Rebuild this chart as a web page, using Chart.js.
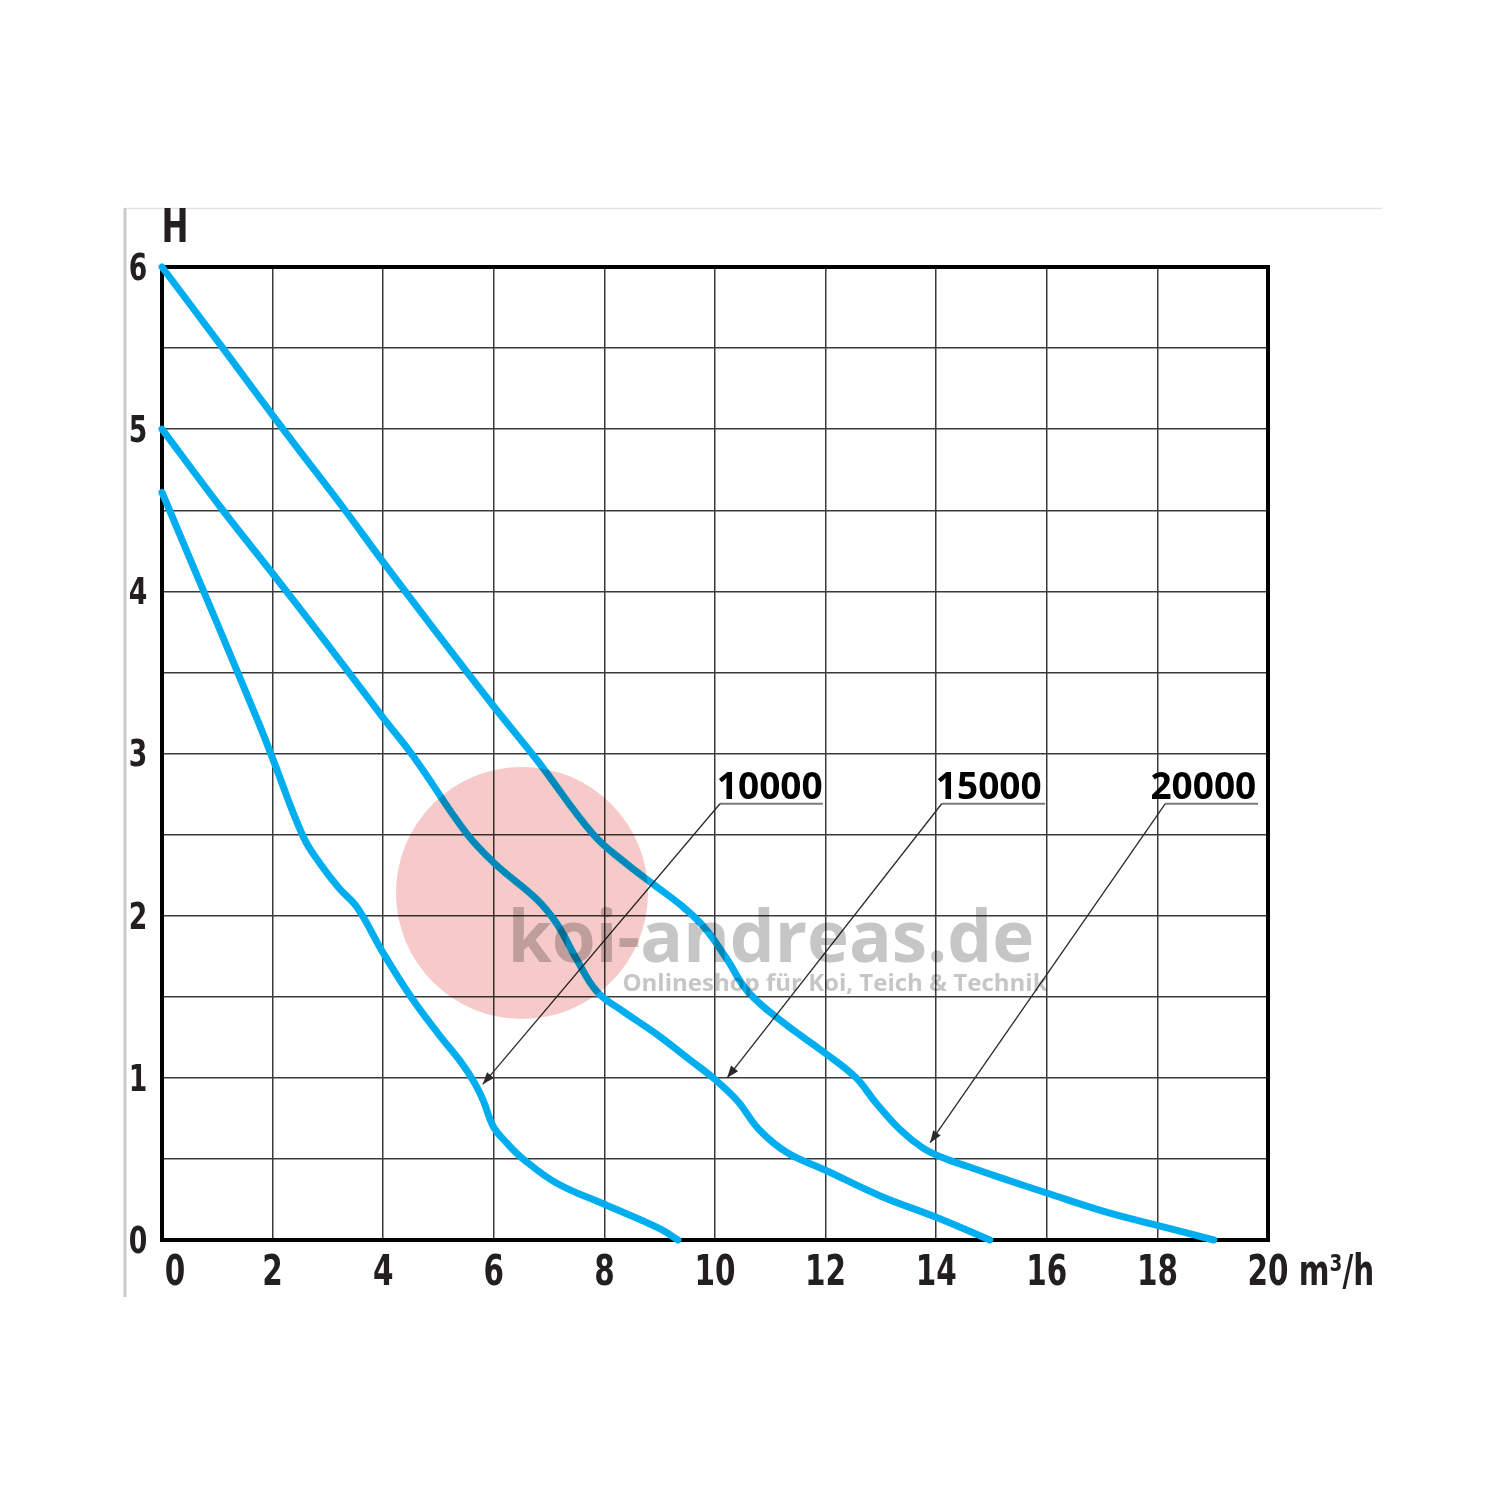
<!DOCTYPE html>
<html>
<head>
<meta charset="utf-8">
<title>Förderkurve</title>
<script src="https://cdn.jsdelivr.net/npm/chart.js@4/dist/chart.umd.min.js"></script>
<style>
  html, body { margin: 0; padding: 0; background: #fff; }
  #wrap { width: 1500px; height: 1500px; }
</style>
</head>
<body>
<div id="wrap"><canvas id="kurve" width="1500" height="1500"></canvas></div>
<script>
// Förderhöhe H (m) über Fördermenge Q (m³/h)
const flow10000 = [0, 1, 1.77, 2, 2.55, 2.86, 3.2, 3.53, 4, 4.5, 5, 5.4, 5.65, 5.81, 5.99, 6.23, 6.53, 7.14, 8, 9, 9.33];
const head10000 = [4.61, 3.8, 3.17, 2.97, 2.49, 2.32, 2.17, 2.05, 1.77, 1.5, 1.27, 1.1, 0.97, 0.86, 0.7, 0.6, 0.5, 0.35, 0.22, 0.07, 0];

const flow15000 = [0, 1.1, 2, 3, 4, 4.55, 5.5, 6.02, 6.78, 7.14, 7.5, 7.87, 8.34, 8.9, 9.55, 10, 10.4, 10.8, 11.3, 12, 13, 14, 14.97];
const head15000 = [5, 4.5, 4.11, 3.67, 3.22, 2.98, 2.51, 2.32, 2.1, 1.95, 1.73, 1.53, 1.41, 1.28, 1.11, 0.99, 0.86, 0.68, 0.54, 0.43, 0.27, 0.14, 0];

const flow20000 = [0, 1.1, 2.19, 3.31, 4, 5, 6, 6.78, 7.8, 8.4, 8.9, 9.4, 9.8, 10.2, 10.6, 11.2, 12, 12.55, 12.9, 13.35, 13.75, 14.1, 14.6, 15.2, 16, 17, 18, 19.02];
const head20000 = [6, 5.5, 5, 4.5, 4.18, 3.73, 3.29, 2.96, 2.5, 2.32, 2.19, 2.06, 1.93, 1.74, 1.53, 1.35, 1.15, 1, 0.85, 0.68, 0.57, 0.51, 0.45, 0.38, 0.29, 0.18, 0.09, 0];

const curveNames = ['10000', '15000', '20000'];
const xTicks = [0, 2, 4, 6, 8, 10, 12, 14, 16, 18, 20];
const yTicks = [0, 1, 2, 3, 4, 5, 6];
const xUnit = ' m³/h';
const yTitle = 'H';

// Beschriftungen der Kurven (in Achsenwerten): Text, Unterstrich, Pfeil
const callouts = [
  { text: curveNames[0], cx: 10.99, lineFrom: 10.09, lineTo: 11.95, tipX: 5.8, tipY: 0.96 },
  { text: curveNames[1], cx: 14.95, lineFrom: 14.1, lineTo: 15.97, tipX: 10.22, tipY: 1.0 },
  { text: curveNames[2], cx: 18.83, lineFrom: 18.14, lineTo: 19.82, tipX: 13.89, tipY: 0.6 }
];

const toPoints = (xs, ys) => xs.map((x, i) => ({ x: x, y: ys[i] }));

const BLUE = '#00aeef';
const INK = '#231f20';
const narrow = "'Liberation Sans Narrow', 'DejaVu Sans Condensed', 'Roboto', sans-serif";
const SQUEEZE = 0.78;

// schmale Schrift nachbilden: horizontal gestaucht zeichnen
function narrowText(c, txt, x, y, align) {
  c.save();
  c.translate(x, y);
  c.scale(SQUEEZE, 1);
  c.textAlign = align || 'center';
  c.fillText(txt, 0, 0);
  c.restore();
}

const decor = {
  id: 'decor',
  beforeDraw(chart) {
    const c = chart.ctx;
    c.save();
    c.fillStyle = '#fff';
    c.fillRect(0, 0, chart.width, chart.height);
    c.strokeStyle = '#e3e3e3';
    c.lineWidth = 1.5;
    c.beginPath(); c.moveTo(125, 208.5); c.lineTo(1382, 208.5); c.stroke();
    c.strokeStyle = '#c9c9c9';
    c.lineWidth = 3;
    c.beginPath(); c.moveTo(125, 208); c.lineTo(125, 1297); c.stroke();
    c.restore();
  },
  beforeDatasetsDraw(chart) {
    const c = chart.ctx, a = chart.chartArea;
    c.save();
    c.strokeStyle = '#000';
    c.lineWidth = 4;
    c.strokeRect(a.left, a.top, a.right - a.left, a.bottom - a.top);
    c.restore();
  },
  afterDatasetsDraw(chart) {
    const c = chart.ctx, xs = chart.scales.x, ys = chart.scales.y;
    c.save();

    // Achsenbeschriftung
    c.fillStyle = INK;
    c.textBaseline = 'middle';
    c.font = 'bold 42px ' + narrow;
    xTicks.forEach(v => {
      const px = xs.getPixelForValue(v) + (v === 0 ? 13 : 0);
      narrowText(c, String(v), px, ys.bottom + 34);
    });
    const x20 = xs.getPixelForValue(20);
    narrowText(c, xUnit, x20 + c.measureText('20').width * SQUEEZE / 2, ys.bottom + 34, 'left');

    c.font = 'bold 38px ' + narrow;
    yTicks.forEach(v => {
      narrowText(c, String(v), xs.left - 24, ys.getPixelForValue(v) + 3);
    });
    c.font = 'bold 46px ' + narrow;
    narrowText(c, yTitle, xs.left + 13, ys.top - 37);

    // Kurvenbezeichnungen mit Pfeilen
    const lineY = ys.getPixelForValue(2.69);
    callouts.forEach(k => {
      c.font = "bold 37px 'Open Sans', 'DejaVu Sans', sans-serif";
      c.fillStyle = '#000';
      c.textAlign = 'center';
      c.textBaseline = 'alphabetic';
      c.fillText(k.text, xs.getPixelForValue(k.cx), lineY - 5);

      const x0 = xs.getPixelForValue(k.lineFrom);
      c.strokeStyle = '#7a7a7a';
      c.lineWidth = 2;
      c.beginPath(); c.moveTo(x0, lineY); c.lineTo(xs.getPixelForValue(k.lineTo), lineY); c.stroke();

      const tx = xs.getPixelForValue(k.tipX), ty = ys.getPixelForValue(k.tipY);
      c.strokeStyle = '#2a2a2a';
      c.lineWidth = 1.3;
      c.beginPath(); c.moveTo(x0, lineY); c.lineTo(tx, ty); c.stroke();
      const ang = Math.atan2(ty - lineY, tx - x0);
      const L = 12, W = 4.5;
      c.fillStyle = '#2a2a2a';
      c.beginPath();
      c.moveTo(tx, ty);
      c.lineTo(tx - L * Math.cos(ang) + W * Math.sin(ang), ty - L * Math.sin(ang) - W * Math.cos(ang));
      c.lineTo(tx - L * Math.cos(ang) - W * Math.sin(ang), ty - L * Math.sin(ang) + W * Math.cos(ang));
      c.closePath();
      c.fill();
    });

    // Wasserzeichen
    c.globalCompositeOperation = 'multiply';
    c.fillStyle = '#f5cac8';
    c.beginPath(); c.arc(522, 893, 126, 0, Math.PI * 2); c.fill();
    c.fillStyle = '#c6c6c6';
    c.textAlign = 'center';
    c.textBaseline = 'alphabetic';
    c.font = "bold 71px 'Open Sans', 'DejaVu Sans', sans-serif";
    c.fillText('koi-andreas.de', 771, 962);
    c.fillStyle = '#c6c6c6';
    c.font = "bold 24px 'Open Sans', 'DejaVu Sans', sans-serif";
    c.fillText('Onlineshop für Koi, Teich & Technik', 835, 991);
    c.restore();
  }
};

const series = [
  toPoints(flow10000, head10000),
  toPoints(flow15000, head15000),
  toPoints(flow20000, head20000)
];

new Chart(document.getElementById('kurve'), {
  type: 'line',
  data: {
    datasets: series.map((pts, i) => ({
      label: curveNames[i],
      data: pts,
      borderColor: BLUE,
      borderWidth: 7,
      borderCapStyle: 'round',
      borderJoinStyle: 'round',
      pointRadius: 0,
      fill: false,
      tension: 0.4,
      clip: false
    }))
  },
  options: {
    responsive: false,
    animation: false,
    devicePixelRatio: 1,
    layout: { padding: { left: 162, top: 267, right: 232, bottom: 260 } },
    plugins: { legend: { display: false }, tooltip: { enabled: false } },
    scales: {
      x: {
        type: 'linear', min: 0, max: 20,
        ticks: { display: false, stepSize: 2 },
        grid: { color: '#3a3a3a', lineWidth: 1.5, drawTicks: false },
        border: { display: false }
      },
      y: {
        type: 'linear', min: 0, max: 6,
        ticks: { display: false, stepSize: 0.5 },
        grid: { color: '#3a3a3a', lineWidth: 1.5, drawTicks: false },
        border: { display: false }
      }
    }
  },
  plugins: [decor]
});
</script>
</body>
</html>
